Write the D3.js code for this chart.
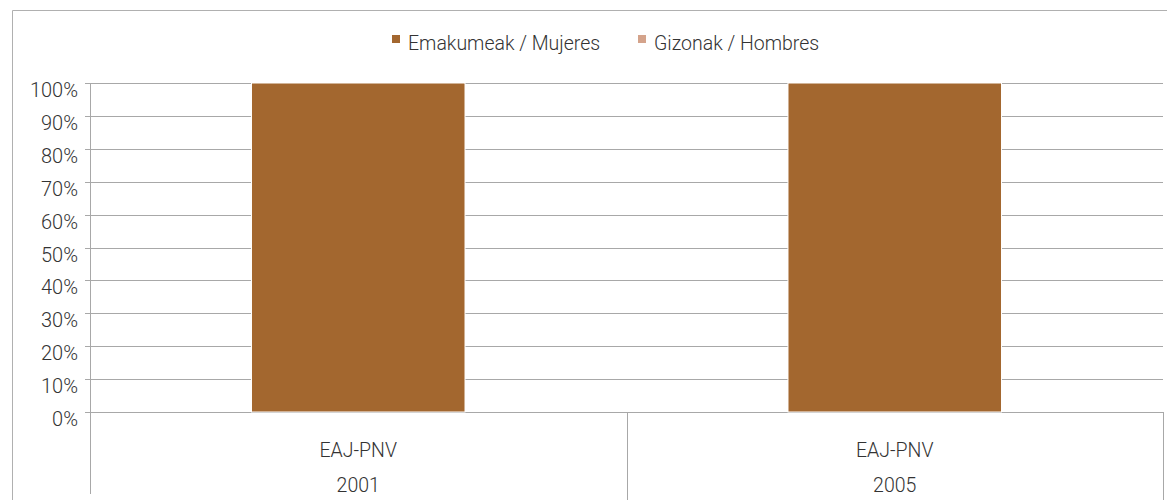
<!DOCTYPE html>
<html>
<head>
<meta charset="utf-8">
<script src="https://cdn.jsdelivr.net/npm/d3@7"></script>
<style>
  body { margin: 0; background: #fff; }
  text { font-family: Roboto, "Liberation Sans", Arial, sans-serif; font-weight: 300; fill: #333; }
</style>
</head>
<body>
<svg id="chart" width="1167" height="500"></svg>
<script>
const parties = ['EAJ-PNV', 'EAJ-PNV'];
const years = ['2001', '2005'];
const mujeres = [100, 100];
const hombres = [0, 0];
const yTicks = [0, 10, 20, 30, 40, 50, 60, 70, 80, 90, 100];
const seriesNames = ['Emakumeak / Mujeres', 'Gizonak / Hombres'];
const seriesColors = ['#a3672f', '#d4a38b'];

const svg = d3.select('#chart');
const plotLeft = 90, plotRight = 1163, plotTop = 83, plotBottom = 412;

// outer frame
svg.append('path')
  .attr('d', `M12.5,500 V10.5 H1167`)
  .attr('fill', 'none')
  .attr('stroke', '#b0b0b0')
  .attr('stroke-width', 1);

const x = d3.scaleBand().domain(d3.range(years.length)).range([plotLeft, plotRight]).padding(0);
const y = d3.scaleLinear().domain([0, 100]).range([plotBottom, plotTop]);

// grid lines
svg.append('g').selectAll('line')
  .data(yTicks)
  .join('line')
  .attr('x1', plotLeft - 5).attr('x2', plotRight)
  .attr('y1', d => Math.round(y(d)) + 0.5).attr('y2', d => Math.round(y(d)) + 0.5)
  .attr('stroke', '#a8a8a8')
  .attr('stroke-width', 1);

// y labels (sit just below their grid line, like the original)
svg.append('g').selectAll('text')
  .data(yTicks)
  .join('text')
  .attr('x', 78)
  .attr('y', d => y(d) + 14)
  .attr('text-anchor', 'end')
  .attr('font-size', 20)
  .text(d => d + '%');

// y axis line and category separators
svg.append('line')
  .attr('x1', plotLeft + 0.5).attr('x2', plotLeft + 0.5)
  .attr('y1', plotTop).attr('y2', 494)
  .attr('stroke', '#a8a8a8');
svg.append('g').selectAll('line')
  .data(d3.range(1, years.length + 1))
  .join('line')
  .attr('x1', d => Math.round(x(0) + x.step() * d) + 0.5)
  .attr('x2', d => Math.round(x(0) + x.step() * d) + 0.5)
  .attr('y1', plotBottom).attr('y2', 500)
  .attr('stroke', '#a8a8a8');

// stacked bars
const barW = x.bandwidth() * 0.398;
const stacks = years.map((yr, i) => ({ i, m: mujeres[i], h: hombres[i] }));
const g = svg.append('g');
stacks.forEach(s => {
  const cx = x(s.i) + x.bandwidth() / 2;
  g.append('rect')
    .attr('x', cx - barW / 2)
    .attr('width', barW)
    .attr('y', y(s.m))
    .attr('height', y(0) - y(s.m))
    .attr('fill', seriesColors[0])
    .attr('stroke', '#fff')
    .attr('stroke-width', 1);
  g.append('rect')
    .attr('x', cx - barW / 2)
    .attr('width', barW)
    .attr('y', y(s.m + s.h))
    .attr('height', y(s.m) - y(s.m + s.h))
    .attr('fill', seriesColors[1]);
});

// category labels
svg.append('g').selectAll('text')
  .data(parties)
  .join('text')
  .attr('x', (d, i) => x(i) + x.bandwidth() / 2)
  .attr('y', 457)
  .attr('text-anchor', 'middle')
  .attr('font-size', 19.5)
  .text(d => d);
svg.append('g').selectAll('text')
  .data(years)
  .join('text')
  .attr('x', (d, i) => x(i) + x.bandwidth() / 2)
  .attr('y', 492)
  .attr('text-anchor', 'middle')
  .attr('font-size', 19.5)
  .text(d => d);

// legend
const legendX = [392, 638];
const legend = svg.append('g');
seriesNames.forEach((n, i) => {
  legend.append('rect')
    .attr('x', legendX[i]).attr('y', 35)
    .attr('width', 8).attr('height', 8)
    .attr('fill', seriesColors[i]);
  legend.append('text')
    .attr('x', legendX[i] + 16).attr('y', 50)
    .attr('font-size', 19.5)
    .text(n);
});
</script>
</body>
</html>
